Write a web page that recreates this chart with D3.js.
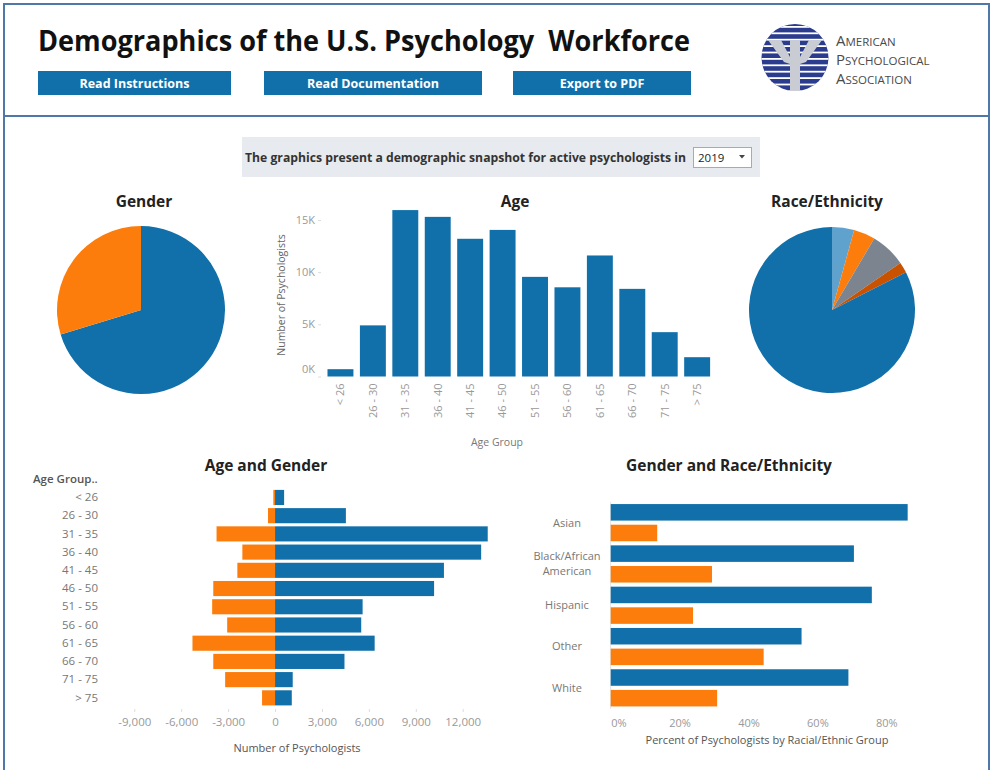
<!DOCTYPE html>
<html>
<head>
<meta charset="utf-8">
<style>
body { margin: 0; background: #fff; }
text { font-family: "Open Sans", "DejaVu Sans", sans-serif; }
.ttl { font-size: 15.5px; font-weight: 700; fill: #222; text-anchor: middle; }
.tick text { font-size: 11px; fill: #999; }
.tick line { stroke: #ddd; }
.axt { font-size: 11px; fill: #666; }
.btn { font-size: 12.5px; font-weight: 700; fill: #fff; text-anchor: middle; }
</style>
<script src="https://d3js.org/d3.v7.min.js"></script>
</head>
<body>
<script>

var ageGroups = ["< 26", "26 - 30", "31 - 35", "36 - 40", "41 - 45", "46 - 50",
                 "51 - 55", "56 - 60", "61 - 65", "66 - 70", "71 - 75", "> 75"];
var ageTotals = [700, 4900, 15950, 15300, 13200, 14050, 9550, 8550, 11600, 8400, 4250, 1850];
var ageFemale = [580, 4530, 13600, 13180, 10800, 10170, 5600, 5510, 6370, 4440, 1130, 1070];
var ageMale   = [110, 450, 3740, 2090, 2410, 3950, 4020, 3060, 5280, 3950, 3190, 830];

var genders = ["Female", "Male"];
var genderShare = [70.3, 29.7];

var races = ["Asian", "Black/African American", "Hispanic", "Other", "White"];
var raceShare = [4.3, 4.2, 6.9, 2.1, 82.5];
var raceFemalePct = [86.2, 70.6, 75.8, 55.4, 69.0];
var raceMalePct   = [13.5, 29.4, 23.9, 44.4, 30.9];

var pyramidTicks = [-9000, -6000, -3000, 0, 3000, 6000, 9000, 12000];
var ageTicks = [0, 5000, 10000, 15000];
var pctTicks = [0, 20, 40, 60, 80];

var blue = "#1170aa", orange = "#fc7d0b";
var genderColor = d3.scaleOrdinal().domain(genders).range([blue, orange]);
var raceColor = d3.scaleOrdinal().domain(races)
    .range(["#5fa2ce", "#fc7d0b", "#7b848f", "#c85200", "#1170aa"]);

var width = 994, height = 770;
var svg = d3.select("body").append("svg")
    .attr("width", width).attr("height", height);

// frame
var frame = "#4f78a9";
svg.append("path")
    .attr("d", "M4,770 V4 H989 V770")
    .attr("fill", "none").attr("stroke", frame).attr("stroke-width", 2);
svg.append("line").attr("x1", 4).attr("x2", 989).attr("y1", 116).attr("y2", 116)
    .attr("stroke", frame).attr("stroke-width", 2);

// header
svg.append("text")
    .attr("x", 38).attr("y", 51)
    .attr("textLength", 652).attr("lengthAdjust", "spacingAndGlyphs")
    .style("white-space", "pre")
    .style("font-size", "29px").style("font-weight", 700).style("fill", "#111")
    .text("Demographics of the U.S. Psychology  Workforce");

var buttons = [
  {label: "Read Instructions", x: 38, w: 193},
  {label: "Read Documentation", x: 264, w: 218},
  {label: "Export to PDF", x: 513, w: 178}
];
var btn = svg.selectAll(".button").data(buttons).enter().append("g");
btn.append("rect")
    .attr("x", function(d) { return d.x; }).attr("y", 71)
    .attr("width", function(d) { return d.w; }).attr("height", 24)
    .attr("fill", blue);
btn.append("text").attr("class", "btn")
    .attr("x", function(d) { return d.x + d.w / 2; }).attr("y", 88)
    .text(function(d) { return d.label; });

// logo
var logo = svg.append("g");
svg.append("clipPath").attr("id", "logoclip")
  .append("circle").attr("cx", 795).attr("cy", 57.5).attr("r", 33.5);
var lg = logo.append("g").attr("clip-path", "url(#logoclip)");
lg.append("rect").attr("x", 760).attr("y", 22).attr("width", 70).attr("height", 72).attr("fill", "#2b3c8e");
lg.selectAll(".stripe").data(d3.range(26, 92, 6.4)).enter().append("rect")
    .attr("x", 760).attr("y", function(d) { return d; })
    .attr("width", 70).attr("height", 1.8).attr("fill", "#fff");
lg.append("path").attr("fill", "#c9ccd2")
    .attr("d", "M768,40 H781 L790,57 V40 H800 V57 L809,40 H822 L806,62 L800,64 V95 H790 V64 L784,62 Z");

var apa = svg.append("g").style("fill", "#4a4a4a").style("font-family", "'Liberation Sans', Arial, sans-serif");
[["A", "MERICAN", 46], ["P", "SYCHOLOGICAL", 65], ["A", "SSOCIATION", 84]].forEach(function(w) {
  var t = apa.append("text").attr("x", 836).attr("y", w[2]);
  t.append("tspan").style("font-size", "15px").text(w[0]);
  t.append("tspan").style("font-size", "11.5px").text(w[1]);
});

// banner
svg.append("rect").attr("x", 242).attr("y", 137).attr("width", 518).attr("height", 40).attr("fill", "#e7eaee");
svg.append("text").attr("x", 245).attr("y", 162)
    .attr("textLength", 441).attr("lengthAdjust", "spacingAndGlyphs")
    .style("font-size", "12px").style("font-weight", 700).style("fill", "#333")
    .text("The graphics present a demographic snapshot for active psychologists in");
svg.append("rect").attr("x", 693.5).attr("y", 147.5).attr("width", 58).attr("height", 20)
    .attr("fill", "#fff").attr("stroke", "#aaa");
svg.append("text").attr("x", 698).attr("y", 162).style("font-size", "11.5px").style("fill", "#222").text("2019");
svg.append("path").attr("d", "M739,155 h6 l-3,3.5 z").attr("fill", "#444");

// pies
var pie = d3.pie().sort(null).value(function(d) { return d.v; });

var gGender = svg.append("g").attr("transform", "translate(141,310)");
var arcG = d3.arc().innerRadius(0).outerRadius(84);
gGender.selectAll("path")
  .data(pie(genders.map(function(g, i) { return {k: g, v: genderShare[i]}; })))
  .enter().append("path")
    .attr("d", arcG)
    .attr("fill", function(d) { return genderColor(d.data.k); });
svg.append("text").attr("class", "ttl").attr("x", 144).attr("y", 207).text("Gender");

var gRace = svg.append("g").attr("transform", "translate(832,310)");
var arcR = d3.arc().innerRadius(0).outerRadius(83);
gRace.selectAll("path")
  .data(pie(races.map(function(r, i) { return {k: r, v: raceShare[i]}; })))
  .enter().append("path")
    .attr("d", arcR)
    .attr("fill", function(d) { return raceColor(d.data.k); });
svg.append("text").attr("class", "ttl").attr("x", 827).attr("y", 207).text("Race/Ethnicity");

// age bar chart
var xAge = d3.scaleBand().domain(ageGroups).range([321, 716.6]).padding(0.2);
var yAge = d3.scaleLinear().domain([0, 15000]).range([376.5, 220]);

svg.append("text").attr("class", "ttl").attr("x", 515).attr("y", 207).text("Age");

svg.selectAll(".agebar").data(ageTotals).enter().append("rect")
    .attr("x", function(d, i) { return xAge(ageGroups[i]); })
    .attr("y", function(d) { return yAge(d); })
    .attr("width", xAge.bandwidth())
    .attr("height", function(d) { return yAge(0) - yAge(d); })
    .attr("fill", blue);

var ayAge = svg.append("g").attr("transform", "translate(321,0)")
    .call(d3.axisLeft(yAge).tickValues(ageTicks).tickSize(3)
      .tickFormat(function(d) { return (d / 1000) + "K"; }));
ayAge.select(".domain").remove();
ayAge.selectAll(".tick text").filter(function(d) { return d === 0; }).attr("dy", "-0.35em");

var axAge = svg.append("g").attr("transform", "translate(0,376.5)")
    .call(d3.axisBottom(xAge).tickSize(0));
axAge.select(".domain").remove();
axAge.selectAll(".tick text")
    .attr("transform", "rotate(-90)")
    .attr("x", -7).attr("y", 0).attr("dy", "0.35em")
    .style("text-anchor", "end");

svg.append("text").attr("class", "axt")
    .attr("transform", "translate(285,295) rotate(-90)")
    .style("text-anchor", "middle").style("font-size", "10.5px")
    .text("Number of Psychologists");
svg.append("text").attr("class", "axt").attr("x", 497).attr("y", 446)
    .style("text-anchor", "middle").style("font-size", "10.5px").style("fill", "#777")
    .text("Age Group");

// age and gender pyramid
var xPyr = d3.scaleLinear().domain([-9000, 12000]).range([134.3, 462.7]);
var yPyr = d3.scaleBand().domain(ageGroups).range([486.8, 708.5]).padding(0.17);

svg.append("text").attr("class", "ttl").attr("x", 266).attr("y", 471).text("Age and Gender");

svg.selectAll(".pyrF").data(ageFemale).enter().append("rect")
    .attr("x", xPyr(0))
    .attr("y", function(d, i) { return yPyr(ageGroups[i]); })
    .attr("width", function(d) { return xPyr(d) - xPyr(0); })
    .attr("height", yPyr.bandwidth())
    .attr("fill", genderColor("Female"));
svg.selectAll(".pyrM").data(ageMale).enter().append("rect")
    .attr("x", function(d) { return xPyr(-d); })
    .attr("y", function(d, i) { return yPyr(ageGroups[i]); })
    .attr("width", function(d) { return xPyr(0) - xPyr(-d); })
    .attr("height", yPyr.bandwidth())
    .attr("fill", genderColor("Male"));

var axPyr = svg.append("g").attr("transform", "translate(0,709)")
    .call(d3.axisBottom(xPyr).tickValues(pyramidTicks).tickSize(3).tickPadding(6)
      .tickFormat(function(d) { return d3.format(",")(d).replace("−", "-"); }));
axPyr.select(".domain").remove();
axPyr.selectAll(".tick text").style("font-size", "11.5px");

var ayPyr = svg.append("g").attr("transform", "translate(98,0)")
    .call(d3.axisLeft(yPyr).tickSize(0).tickPadding(0));
ayPyr.select(".domain").remove();
ayPyr.selectAll(".tick text").style("font-size", "11.5px").style("fill", "#777");

svg.append("text").attr("x", 33).attr("y", 483)
    .style("font-size", "11.5px").style("font-weight", 600).style("fill", "#555")
    .text("Age Group..");
svg.append("text").attr("class", "axt").attr("x", 297).attr("y", 752)
    .style("text-anchor", "middle").style("fill", "#555")
    .text("Number of Psychologists");

// gender and race/ethnicity
var xRace = d3.scaleLinear().domain([0, 100]).range([610.7, 955.2]);
var yRace = d3.scaleBand().domain(races).range([502, 708.5]);
var yGen = d3.scaleBand().domain(genders).range([0, yRace.bandwidth()])
    .paddingInner(0.2).paddingOuter(0.1);

svg.append("text").attr("class", "ttl").attr("x", 729).attr("y", 471).text("Gender and Race/Ethnicity");

svg.append("line").attr("x1", 610.7).attr("x2", 610.7).attr("y1", 502).attr("y2", 709)
    .attr("stroke", "#e2e2e2");

var raceRows = svg.selectAll(".raceRow").data(races).enter().append("g")
    .attr("transform", function(d) { return "translate(0," + yRace(d) + ")"; });
raceRows.append("rect")
    .attr("x", xRace(0)).attr("y", yGen("Female"))
    .attr("width", function(d, i) { return xRace(raceFemalePct[i]) - xRace(0); })
    .attr("height", yGen.bandwidth())
    .attr("fill", genderColor("Female"));
raceRows.append("rect")
    .attr("x", xRace(0)).attr("y", yGen("Male"))
    .attr("width", function(d, i) { return xRace(raceMalePct[i]) - xRace(0); })
    .attr("height", yGen.bandwidth())
    .attr("fill", genderColor("Male"));

raceRows.each(function(d) {
  var parts = d === "Black/African American" ? ["Black/African", "American"] : [d];
  var t = d3.select(this).append("text")
      .attr("x", 567).attr("y", yRace.bandwidth() / 2 - (parts.length - 1) * 7.5)
      .attr("dy", "0.35em")
      .style("text-anchor", "middle").style("font-size", "11px").style("fill", "#777");
  parts.forEach(function(p, j) {
    t.append("tspan").attr("x", 567).attr("dy", j === 0 ? "0.35em" : "15").text(p);
  });
});

var axRace = svg.append("g").attr("transform", "translate(0,709)")
    .call(d3.axisBottom(xRace).tickValues(pctTicks).tickSize(0).tickPadding(10)
      .tickFormat(function(d) { return d + "%"; }));
axRace.select(".domain").remove();
axRace.selectAll(".tick text").filter(function(d) { return d === 0; })
    .style("text-anchor", "start");

svg.append("text").attr("class", "axt").attr("x", 767).attr("y", 744)
    .style("text-anchor", "middle").style("fill", "#555")
    .text("Percent of Psychologists by Racial/Ethnic Group");

</script>
</body>
</html>
